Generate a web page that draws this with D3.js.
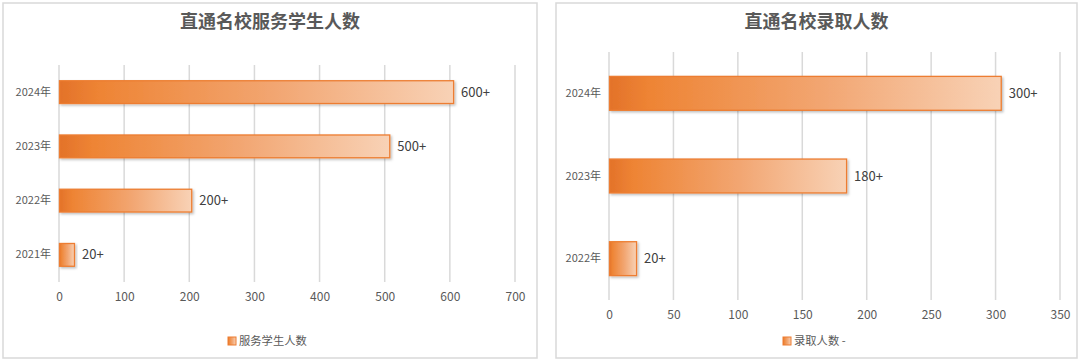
<!DOCTYPE html>
<html><head><meta charset="utf-8">
<script src="https://cdn.jsdelivr.net/npm/d3@7"></script>
<style>
html,body{margin:0;padding:0;background:#fff;}
svg{display:block;font-family:"Microsoft YaHei","Noto Sans CJK SC","Noto Sans",sans-serif;}
</style></head>
<body><svg id="c" width="1080" height="364"></svg>
<script>
const leftTitle = "直通名校服务学生人数";
const leftCategories = ["2024年","2023年","2022年","2021年"];
const leftValues = [605, 507, 203, 23];
const leftLabels = ["600+","500+","200+","20+"];
const leftTicks = [0,100,200,300,400,500,600,700];
const leftLegend = "服务学生人数";

const rightTitle = "直通名校录取人数";
const rightCategories = ["2024年","2023年","2022年"];
const rightValues = [304, 184, 21];
const rightLabels = ["300+","180+","20+"];
const rightTicks = [0,50,100,150,200,250,300,350];
const rightLegend = "录取人数 -";

const svg = d3.select("#c");
const defs = svg.append("defs");
const grad = defs.append("linearGradient").attr("id","barGrad").attr("x1","0%").attr("x2","100%").attr("y1","0%").attr("y2","0%");
[["0%","#E3722A"],["10%","#EE8434"],["55%","#F2A672"],["100%","#F8D2B6"]].forEach(s=>grad.append("stop").attr("offset",s[0]).attr("stop-color",s[1]));
const f = defs.append("filter").attr("id","sh").attr("x","-10%").attr("y","-20%").attr("width","130%").attr("height","160%");
f.append("feDropShadow").attr("dx",1.5).attr("dy",1.5).attr("stdDeviation",1.2).attr("flood-color","#000").attr("flood-opacity",0.25);

function panel(cfg){
  const g = svg.append("g");
  g.append("rect").attr("x",cfg.px).attr("y",cfg.py).attr("width",cfg.pw).attr("height",cfg.ph)
    .attr("fill","#fff").attr("stroke","#D9D9D9").attr("stroke-width",1.5);
  g.append("text").attr("x",cfg.px+cfg.pw/2).attr("y",28).attr("text-anchor","middle")
    .attr("font-size",18).attr("font-weight","bold").attr("fill","#595959").text(cfg.title);
  const x = d3.scaleLinear().domain([cfg.ticks[0], cfg.ticks[cfg.ticks.length-1]]).range([cfg.x0,cfg.x1]);
  const y = d3.scaleBand().domain(cfg.cats).range([cfg.y0,cfg.y1]).paddingInner(cfg.pad).paddingOuter(cfg.pad/2);
  g.selectAll(".grid").data(cfg.ticks).join("line")
    .attr("x1",d=>x(d)).attr("x2",d=>x(d)).attr("y1",cfg.y0).attr("y2",cfg.y1)
    .attr("stroke","#D9D9D9").attr("stroke-width",1.5);
  const xa = g.append("g").attr("transform",`translate(0,${cfg.y1})`)
    .call(d3.axisBottom(x).tickValues(cfg.ticks).tickSize(0).tickPadding(10));
  xa.select(".domain").remove();
  xa.selectAll("text").attr("font-size",12).attr("fill","#595959").attr("font-family","'Microsoft YaHei','Noto Sans CJK SC',sans-serif");
  const ya = g.append("g").attr("transform",`translate(${cfg.x0},0)`)
    .call(d3.axisLeft(y).tickSize(0).tickPadding(8));
  ya.select(".domain").remove();
  ya.selectAll("text").attr("font-size",11).attr("fill","#595959").attr("font-family","'Microsoft YaHei','Noto Sans CJK SC',sans-serif");
  const data = cfg.cats.map((c,i)=>({c, v:cfg.vals[i], l:cfg.labels[i]}));
  g.selectAll(".bar").data(data).join("rect")
    .attr("x",x(0)+0.5).attr("y",d=>y(d.c)).attr("width",d=>x(d.v)-x(0)).attr("height",y.bandwidth())
    .attr("fill","url(#barGrad)").attr("stroke","#ED7D31").attr("stroke-width",1.3).attr("filter","url(#sh)");
  g.selectAll(".lbl").data(data).join("text")
    .attr("x",d=>x(d.v)+8).attr("y",d=>y(d.c)+y.bandwidth()/2).attr("dy","0.35em")
    .attr("font-size",13).attr("fill","#404040").text(d=>d.l);
  const lg = g.append("g");
  lg.append("text").attr("x",cfg.lx+11).attr("y",341).attr("dy","0.35em")
    .attr("font-size",11.3).attr("fill","#595959").text(cfg.legend);
  lg.append("rect").attr("x",cfg.lx).attr("y",337).attr("width",8).attr("height",8)
    .attr("fill","url(#barGrad)").attr("stroke","#ED7D31").attr("stroke-width",1);
}

panel({px:3,py:3,pw:534,ph:355,title:leftTitle,cats:leftCategories,vals:leftValues,labels:leftLabels,ticks:leftTicks,
  x0:59,x1:515,y0:65,y1:282,pad:0.58,legend:leftLegend,lx:228});
panel({px:556,py:3,pw:521,ph:355,title:rightTitle,cats:rightCategories,vals:rightValues,labels:rightLabels,ticks:rightTicks,
  x0:609,x1:1060,y0:52,y1:300,pad:0.59,legend:rightLegend,lx:783});
</script></body></html>
